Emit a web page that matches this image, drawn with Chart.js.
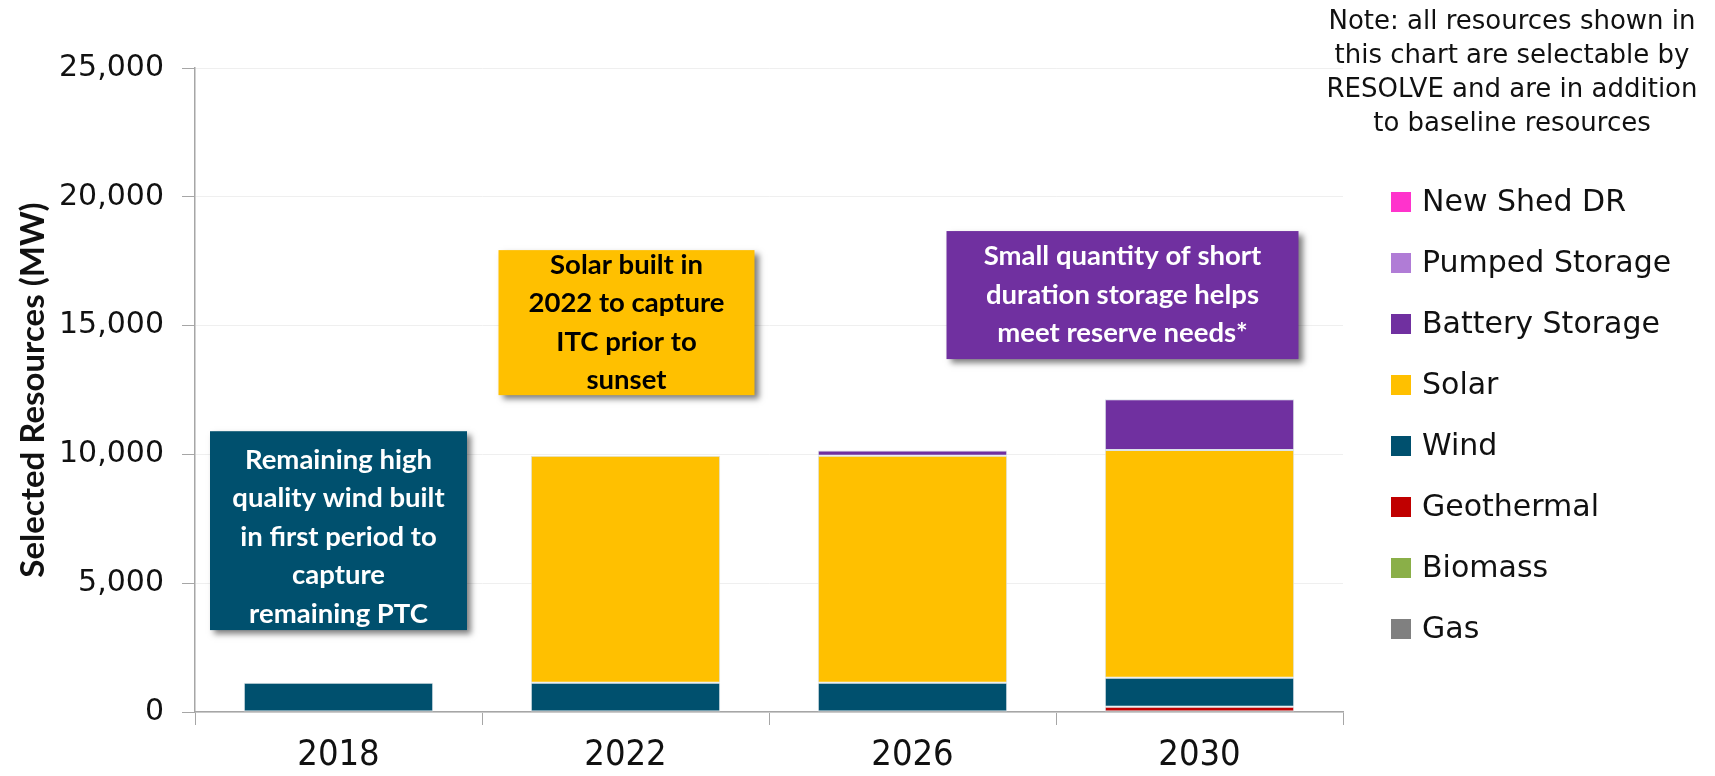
<!DOCTYPE html>
<html>
<head>
<meta charset="utf-8">
<script src="https://cdn.jsdelivr.net/npm/chart.js@4/dist/chart.umd.min.js"></script>
<style>
  html, body { margin: 0; padding: 0; background: #fff; }
  #wrap { position: relative; width: 1715px; height: 776px; }
</style>
</head>
<body>
<div id="wrap"><canvas id="chart"></canvas></div>
<script>
// categories and series (MW)
const years = ['2018', '2022', '2026', '2030'];
const gas = [0, 0, 0, 0];
const biomass = [0, 0, 0, 0];
const geothermal = [0, 0, 0, 200];
const wind = [1140, 1140, 1140, 1130];
const solar = [0, 8810, 8810, 8840];
const battery = [0, 0, 200, 1970];
const pumped = [0, 0, 0, 0];
const shedDR = [0, 0, 0, 0];
const yTickValues = [0, 5000, 10000, 15000, 20000, 25000];

const noteLines = [
    'Note: all resources shown in',
    'this chart are selectable by',
    'RESOLVE and are in addition',
    'to baseline resources',
];

// text boxes placed against the category/value scales
const callouts = [
    { cat: 0, dx: 0, w: 257, yTop: 10900, yBottom: 3180, bg: '#00506E', fg: '#fff', dy: 6,
      lines: ['Remaining high', 'quality wind built', 'in first period to', 'capture', 'remaining PTC'] },
    { cat: 1, dx: 1, w: 256, yTop: 17930, yBottom: 12300, bg: '#FFC000', fg: '#000',
      lines: ['Solar built in', '2022 to capture', 'ITC prior to', 'sunset'] },
    { cat: 3, dx: -77, w: 352, yTop: 18670, yBottom: 13700, bg: '#7030A0', fg: '#fff',
      lines: ['Small quantity of short', 'duration storage helps', 'meet reserve needs*'] },
];

const series = [
    { label: 'Gas', data: gas, color: '#808080' },
    { label: 'Biomass', data: biomass, color: '#8AAF48' },
    { label: 'Geothermal', data: geothermal, color: '#C00000' },
    { label: 'Wind', data: wind, color: '#00506E' },
    { label: 'Solar', data: solar, color: '#FFC000' },
    { label: 'Battery Storage', data: battery, color: '#7030A0' },
    { label: 'Pumped Storage', data: pumped, color: '#B07CD6' },
    { label: 'New Shed DR', data: shedDR, color: '#FF33CC' },
];

const overlay = {
    id: 'overlay',
    afterDraw(chart) {
        const ctx = chart.ctx;
        const xs = chart.scales.x;
        const ys = chart.scales.y;

        callouts.forEach(c => {
            const cx = xs.getPixelForValue(c.cat) + c.dx;
            const top = ys.getPixelForValue(c.yTop);
            const bottom = ys.getPixelForValue(c.yBottom);
            ctx.save();
            ctx.shadowColor = 'rgba(0,0,0,0.5)';
            ctx.shadowBlur = 6;
            ctx.shadowOffsetX = 4;
            ctx.shadowOffsetY = 4;
            ctx.fillStyle = c.bg;
            ctx.fillRect(cx - c.w / 2, top, c.w, bottom - top);
            ctx.restore();

            ctx.save();
            ctx.fillStyle = c.fg;
            ctx.font = 'bold 27.5px Lato';
            ctx.textAlign = 'center';
            ctx.textBaseline = 'middle';
            const mid = (top + bottom) / 2 + (c.dy || 0);
            c.lines.forEach((t, i) => {
                ctx.fillText(t, cx, mid + (i - (c.lines.length - 1) / 2) * 38.5);
            });
            ctx.restore();
        });

        // note above legend
        ctx.save();
        ctx.fillStyle = '#111';
        ctx.font = '26px "DejaVu Sans"';
        ctx.textAlign = 'center';
        ctx.textBaseline = 'middle';
        noteLines.forEach((t, i) => ctx.fillText(t, 1512, 22 + i * 34));

        // legend, top of stack first
        ctx.font = '30px "DejaVu Sans"';
        ctx.textAlign = 'left';
        const items = chart.data.datasets.slice().reverse();
        items.forEach((ds, i) => {
            const yc = 202 + i * 61;
            ctx.fillStyle = ds.backgroundColor;
            ctx.fillRect(1391, yc - 10, 20, 20);
            ctx.fillStyle = '#111';
            ctx.fillText(ds.label, 1422, yc + 1);
        });
        ctx.restore();
    }
};

new Chart(document.getElementById('chart'), {
    type: 'bar',
    data: {
        labels: years,
        datasets: series.map(s => ({
            label: s.label,
            data: s.data,
            backgroundColor: s.color,
            borderColor: '#dce3e8',
            borderWidth: c => (c.raw ? 1 : 0),
            borderSkipped: false,
            categoryPercentage: 1,
            barPercentage: 0.66,
        })),
    },
    options: {
        responsive: true,
        maintainAspectRatio: false,
        animation: false,
        layout: { padding: { top: 68, right: 372, left: 14, bottom: 0 } },
        plugins: {
            legend: { display: false },
            tooltip: { enabled: false },
        },
        scales: {
            x: {
                stacked: true,
                grid: {
                    display: true,
                    drawOnChartArea: false,
                    tickLength: 13,
                    tickColor: '#a6a6a6',
                },
                border: { display: true, color: '#a6a6a6', width: 1.5 },
                ticks: {
                    color: '#111',
                    padding: 13,
                    font: { family: '"Liberation Sans Narrow", "DejaVu Sans Condensed", sans-serif', size: 36, lineHeight: 1 },
                },
                afterFit: s => { s.height = 64; },
            },
            y: {
                stacked: true,
                min: 0,
                max: 25000,
                afterBuildTicks: s => { s.ticks = yTickValues.map(v => ({ value: v })); },
                grid: {
                    color: '#efefef',
                    tickColor: '#a6a6a6',
                    tickLength: 13,
                },
                border: { display: true, color: '#a6a6a6', width: 1.5 },
                ticks: {
                    color: '#111',
                    padding: 18,
                    font: { family: '"DejaVu Sans"', size: 30 },
                    callback: v => v.toLocaleString('en-US'),
                },
                title: {
                    display: true,
                    text: 'Selected Resources (MW)',
                    color: '#111',
                    font: { family: 'Lato', weight: 'bold', size: 33, lineHeight: 1.15 },
                    padding: { top: 0, bottom: 0 },
                },
                afterFit: s => { s.width = 181; },
            },
        },
    },
    plugins: [overlay],
});
</script>
</body>
</html>
